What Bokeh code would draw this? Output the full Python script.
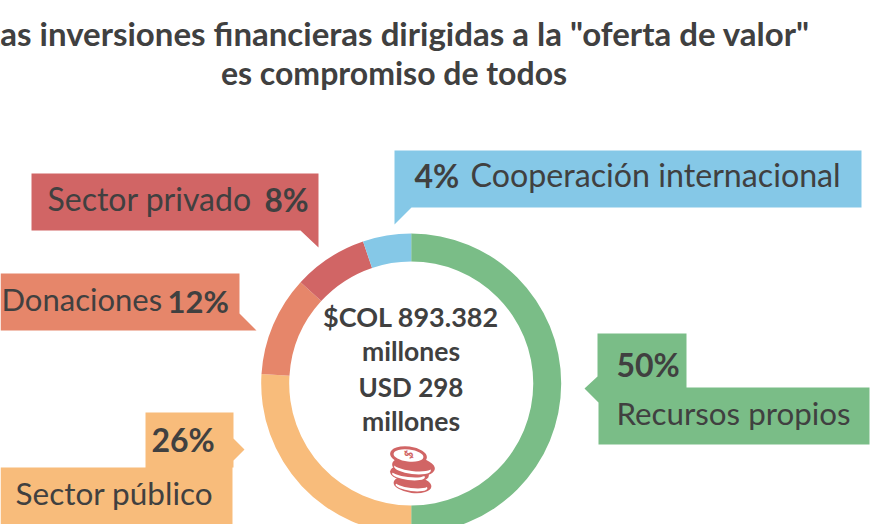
import math
from bokeh.plotting import figure
from bokeh.models import Range1d
from bokeh.core.properties import value
from bokeh.embed import file_html
from bokeh.resources import INLINE

title_lines = ['Las inversiones financieras dirigidas a la "oferta de valor"', 'es compromiso de todos']
categories = ["Recursos propios", "Sector público", "Donaciones", "Sector privado", "Cooperación internacional"]
drawn_shares = [50, 26, 10.8, 8, 5.2]
pct_labels = ["50%", "26%", "12%", "8%", "4%"]
colors = ["#7ABD87", "#F8BC7B", "#E6866A", "#D16565", "#85C8E7"]
center_lines = ["$COL 893.382", "millones", "USD 298", "millones"]
INK = "#404040"
FONT = "Lato"

p = figure(width=883, height=524, output_backend="svg", toolbar_location=None,
           x_range=Range1d(0, 883), y_range=Range1d(524, 0),
           x_axis_type=None, y_axis_type=None, min_border=0,
           outline_line_color=None, background_fill_color="white", border_fill_color="white")
p.grid.visible = False
p.styles = {"position": "absolute", "left": "0px", "top": "0px"}

# donut
cx, cy, r0, r1 = 410.7, 383, 122, 150
starts, ends = [], []
acc = 0.0
total = sum(drawn_shares)
for s in drawn_shares:
    starts.append(math.pi / 2 - 2 * math.pi * acc / total)
    acc += s
    ends.append(math.pi / 2 - 2 * math.pi * acc / total)
p.annular_wedge(x=[cx] * 5, y=[cy] * 5, inner_radius=r0, outer_radius=r1,
                start_angle=starts, end_angle=ends, direction="clock",
                fill_color=colors, line_color=None)

# callouts
boxes = {
    1: [(145, 412), (233, 412), (233, 438), (244, 449), (233, 460), (233, 467), (232, 467), (232, 524), (0, 524), (0, 467), (145, 467)],
    2: [(0, 273), (239, 273), (239, 313), (256, 330), (0, 330)],
    3: [(31, 173), (318, 173), (318, 247), (300, 230), (31, 230)],
    4: [(394, 150), (861, 150), (861, 207), (411, 207), (394, 224)],
    0: [(597, 333), (686, 333), (686, 387), (869, 387), (869, 444), (598, 444), (598, 402), (584, 388), (597, 376)],
}
for i, poly in boxes.items():
    p.patch([q[0] for q in poly], [q[1] for q in poly], fill_color=colors[i], line_color=None)


def txt(x, y, s, size, bold=False, align="left"):
    # y is the wanted baseline; the renderer sets alphabetic text lower than y
    p.text(x=[x], y=[y - 0.42 * size], text=[s], text_font=value(FONT), text_font_size=f"{size}px",
           text_font_style="bold" if bold else "normal", text_color=INK,
           text_align=align, text_baseline="alphabetic")


# title
txt(396, 46, title_lines[0], 33, True, "center")
txt(393.5, 85, title_lines[1], 32, True, "center")

# labels
txt(47, 211, categories[3], 32)
txt(264, 213, pct_labels[3], 31.5, True)
txt(1, 312, categories[2], 31)
txt(167, 314, pct_labels[2], 31, True)
txt(151, 452, pct_labels[1], 32, True)
txt(15, 506, categories[1], 31.5)
txt(414, 188, pct_labels[4], 32, True)
txt(470, 188, categories[4], 32.2)
txt(616, 377, pct_labels[0], 32, True)
txt(616, 426, categories[0], 31.3)

# centre
for yy, s, fs in zip([327, 362, 397, 432], center_lines, [27, 26.5, 26, 26.5]):
    txt(410.5, yy, s, fs, True, "center")

# coin stack, bottom to top: red coin, white edge highlight, red cover
RED = colors[3]
tilt = -0.12
coins = [(412, 484, 38, 17), (409, 473, 39, 17), (413, 466, 43, 19), (408, 455, 37, 18)]
for k, (ex, ey, w, h) in enumerate(coins):
    p.ellipse(x=[ex], y=[ey], width=[w], height=[h], angle=tilt, fill_color=RED, line_color=None)
    if k < 3:
        p.ellipse(x=[ex - 1], y=[ey + 2], width=[w - 6], height=[h - 8], angle=tilt, fill_color="white", line_color=None)
        p.ellipse(x=[ex - 1], y=[ey - 1], width=[w - 4], height=[h - 8], angle=tilt, fill_color=RED, line_color=None)
p.ellipse(x=[408], y=[455], width=[30], height=[12], angle=tilt, fill_color="white", line_color=None)
p.text(x=[408], y=[454], text=["$"], text_font=value(FONT), text_font_size="12px",
       text_font_style="bold", text_color=RED, text_align="center", text_baseline="alphabetic",
       angle=1.0)

open("out.html", "w").write(file_html(p, INLINE))
